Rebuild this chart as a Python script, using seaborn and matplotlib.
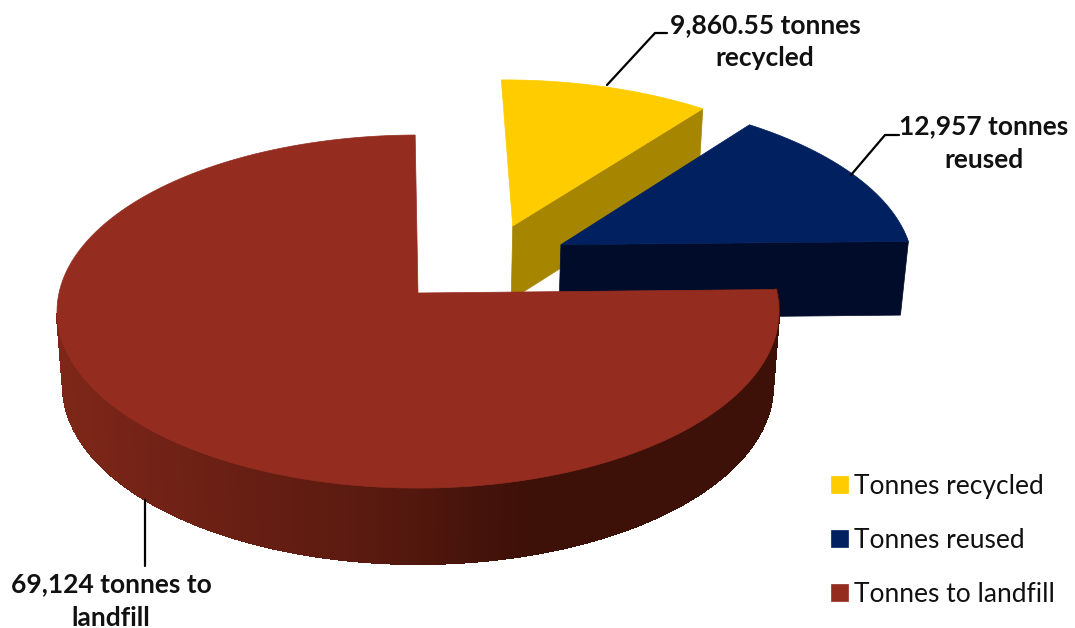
import numpy as np
import matplotlib
matplotlib.use('Agg')
import matplotlib.pyplot as plt
from matplotlib.collections import PolyCollection
from matplotlib.patches import Polygon
import seaborn as sns

categories = ['Tonnes recycled', 'Tonnes reused', 'Tonnes to landfill']
tonnes = [9860.55, 12957, 69124]
labels = ['9,860.55 tonnes\nrecycled', '12,957 tonnes\nreused', '69,124 tonnes to\nlandfill']
explode_x = [0.275, 0.41, 0.0]
explode_y = [0.40, 0.285, 0.0]
top_colors = ['#FFCC00', '#002060', '#942D20']
side_colors = ['#A68500', '#000C2A']
rim_stops = ['#7E2719', '#6B2014', '#5A1A10', '#3D1008', '#3D1008']

# perspective of the tilted disc, pixel coordinates
x0, y0 = 418, 293
rx, ry, k = 359, 174.6, 0.105
depth, shrink = 74.3, 0.017


def project(x, y, z=0.0):
    w = 1 + k * y + shrink * z
    return np.column_stack([x0 + rx * x / w, y0 - ry * y / w + depth * z / (1 + k * y) ** 0.6])


def wedge(a0, a1, dx, dy, z=0.0):
    t = np.radians(np.linspace(a0, a1, 160))
    xs = np.r_[dx, dx + np.cos(t)]
    ys = np.r_[dy, dy + np.sin(t)]
    return project(xs, ys, z)


sns.set_theme(style='white')
plt.rcParams['font.family'] = ['Lato', 'DejaVu Sans']

fig, ax = plt.subplots(figsize=(10.75, 6.28), dpi=100)
ax.set_position([0, 0, 1, 1])
ax.set_xlim(0, 1075)
ax.set_ylim(628, 0)
ax.axis('off')

# slices go clockwise from 12 o'clock, landfill ends there
spans = 360 * np.array(tonnes) / np.sum(tonnes)
ends = 90.5 - np.cumsum(spans)
starts = ends + spans

handles = []
for i in range(2):
    # radial face that looks at the viewer, then the top
    t = np.radians(ends[i])
    xs = np.array([explode_x[i], explode_x[i] + np.cos(t)])
    ys = np.array([explode_y[i], explode_y[i] + np.sin(t)])
    face = np.vstack([project(xs, ys), project(xs, ys, 1.0)[::-1]])
    ax.add_patch(Polygon(face, fc=side_colors[i], ec=side_colors[i], lw=0.5))
    top = Polygon(wedge(starts[i], ends[i], explode_x[i], explode_y[i]), fc=top_colors[i], ec=top_colors[i], lw=0.5)
    ax.add_patch(top)
    handles.append(top)

# rim of the big slice, shaded strip by strip
angles = np.radians(np.linspace(187, 360 + starts[2], 240))
upper = project(np.cos(angles), np.sin(angles))
lower = project(np.cos(angles), np.sin(angles), 1.0)
strips = [np.array([upper[i], upper[i + 1], lower[i + 1], lower[i]]) for i in range(len(angles) - 1)]
shades = sns.blend_palette(rim_stops, 256)
strip_colors = [shades[int(np.clip((s[:, 0].mean() - 60) / 620, 0, 1) * 255)] for s in strips]
ax.add_collection(PolyCollection(strips, facecolors=strip_colors, edgecolors=strip_colors,
                                 linewidths=1.0, antialiaseds=False))

top = Polygon(wedge(starts[2], ends[2], explode_x[2], explode_y[2]), fc=top_colors[2], ec=top_colors[2], lw=0.5)
ax.add_patch(top)
handles.append(top)

# leaders and data labels
ax.plot([607, 655, 667], [85, 33, 33], color='black', lw=1.6)
ax.plot([851, 885, 899], [175, 135, 135], color='black', lw=1.6)
ax.plot([145, 145], [500, 566], color='black', lw=1.6)
label_pos = [(765, 42), (984, 143), (111, 601)]
for text, (lx, ly) in zip(labels, label_pos):
    ax.text(lx, ly, text, ha='center', va='center', fontsize=19, fontweight='bold',
            color='#111111', linespacing=1.45)

ax.legend(handles, categories, loc='lower right', bbox_to_anchor=(1.003, -0.004), frameon=False,
          fontsize=19, labelspacing=1.1, handlelength=0.65, handleheight=0.65, handletextpad=0.2,
          labelcolor='#111111')

fig.savefig('out.png', dpi=100)
